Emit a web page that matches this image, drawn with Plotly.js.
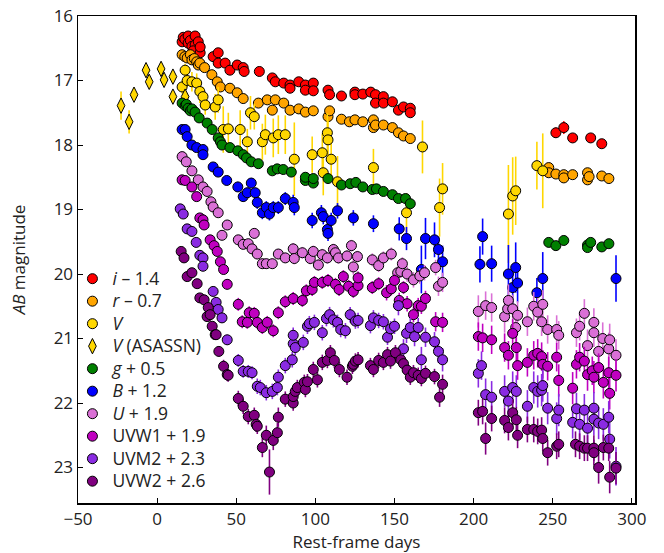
<!DOCTYPE html>
<html>
<head>
<meta charset="utf-8">
<script src="https://cdn.plot.ly/plotly-3.0.1.min.js"></script>
<style>html,body{margin:0;padding:0;background:#fff}#chart{width:664px;height:553px}</style>
</head>
<body>
<div id="chart"></div>
<script>
// Each point: [rest-frame day, AB magnitude (offset applied), error]
const band_i = [[15.8,16.40,.05],[16.5,16.33,.05],[17.5,16.36,.05],[19.6,16.31,.05],[19.6,16.42,.05],[21,16.38,.05],[22,16.47,.05],[24,16.31,.05],[24,16.45,.05],[26,16.40,.05],[22.8,16.54,.05],[27.2,16.57,.05],[27.2,16.48,.05],[35.4,16.63,.05],[38.6,16.57,.05],[38.6,16.73,.05],[43,16.73,.05],[46,16.84,.05],[50.6,16.76,.05],[54.4,16.80,.05],[55,16.86,.05],[64.6,16.86,.05],[72.8,16.96,.05],[74.7,17.02,.05],[80,17.04,.05],[84,17.07,.05],[84,17.12,.05],[89.5,17.02,.05],[93.7,17.07,.05],[93.7,17.15,.05],[98.7,17.04,.05],[98.7,17.16,.05],[108,17.15,.05],[109,17.22,.06],[116.5,17.24,.05],[125,17.18,.05],[125,17.22,.05],[130,17.21,.05],[135,17.18,.05],[138,17.22,.05],[138,17.35,.05],[143,17.25,.05],[143,17.35,.05],[148.7,17.33,.05],[152.5,17.46,.05],[155.7,17.41,.05],[160,17.43,.05],[160,17.50,.05],[252,17.81,.08],[257,17.73,.1],[262.6,17.89,.06],[274,17.89,.06],[281,17.98,.07]];
const band_r = [[15.8,16.60,.04],[17.5,16.63,.04],[19,16.65,.04],[21,16.60,.04],[22,16.68,.04],[23.5,16.66,.04],[25,16.71,.04],[26,16.76,.04],[27,16.73,.04],[30,16.80,.04],[34.6,16.91,.04],[38,17.02,.04],[40,17.10,.04],[46,17.12,.04],[50.6,17.19,.04],[54.4,17.28,.04],[64,17.35,.04],[69.6,17.30,.04],[72.8,17.46,.04],[74.7,17.30,.04],[80,17.35,.04],[84,17.46,.04],[89.5,17.44,.04],[93.7,17.49,.04],[98.7,17.47,.04],[108,17.56,.04],[109,17.47,.04],[116.5,17.60,.04],[121.5,17.64,.04],[125,17.61,.04],[130,17.64,.04],[136.7,17.61,.04],[136.7,17.73,.04],[138,17.69,.04],[143,17.69,.04],[148.7,17.73,.04],[152.5,17.81,.04],[155.7,17.86,.04],[160,17.90,.04],[247.5,18.35,.05],[247.5,18.43,.05],[252,18.45,.05],[257,18.46,.05],[257,18.51,.05],[262.6,18.46,.05],[272,18.43,.05],[272,18.54,.05],[273,18.49,.05],[281,18.48,.05],[285.5,18.52,.05]];
const band_V = [[15.8,17.10,.1],[17.7,16.84,.1],[19,17.00,.1],[22,17.02,.15],[25,17.04,.15],[27,17.17,.18],[29,17.25,.15],[30.4,17.38,.15],[36.7,17.41,.2],[38.6,17.30,.2],[41.8,17.76,.36],[45,17.75,.25],[52.5,17.76,.3],[57,17.95,.2],[59,17.50,.26],[61.4,17.56,.2],[66.5,17.95,.28],[68.4,17.84,.31],[73.4,17.89,.3],[76.6,17.84,.3],[81,17.84,.3],[86.7,18.22,.57],[98,18.15,.28],[104.4,18.12,.3],[105,18.43,.35],[107.6,17.81,.3],[108,17.92,.3],[110,18.22,.3],[114,18.57,.4],[136.7,18.35,.29],[157.6,19.05,.3],[167.7,18.03,.41],[178.5,18.97,.45],[180.4,18.68,.4],[222,19.07,.76],[224.7,18.79,.6],[226.6,18.71,.53],[240,18.32,.37],[243.7,18.40,.58]];
const band_Vasassn = [[-22.8,17.39,.22],[-17.7,17.64,.18],[-14.6,17.22,.1],[-7,16.84,.1],[-5,17.02,.1],[2.5,16.82,.1],[4.4,16.99,.1],[10,16.94,.1],[10,17.25,.1],[17.7,17.25,.1]];
const band_g = [[15.8,17.35,.04],[17.7,17.39,.04],[18.5,17.37,.04],[19.6,17.43,.04],[21,17.47,.04],[22,17.44,.04],[24,17.49,.04],[26.6,17.58,.04],[31.6,17.66,.04],[34.8,17.76,.04],[38.6,17.89,.04],[40,17.95,.04],[41,18.00,.04],[46,18.04,.04],[51,18.09,.04],[54.4,18.15,.04],[56.5,18.20,.04],[59.5,18.26,.04],[64,18.29,.04],[72.8,18.40,.05],[75.9,18.37,.05],[79.7,18.38,.05],[84.8,18.42,.05],[93.7,18.55,.05],[93.7,18.50,.05],[98.7,18.59,.05],[98.7,18.52,.05],[108,18.52,.05],[116.5,18.62,.05],[122,18.60,.05],[125.6,18.58,.05],[130,18.65,.05],[136,18.69,.05],[138.6,18.68,.05],[143,18.72,.05],[148.7,18.77,.05],[152.5,18.83,.05],[157,18.83,.05],[160,18.91,.05],[247.5,19.51,.05],[252,19.56,.05],[257,19.48,.05],[272,19.55,.05],[272,19.59,.05],[274,19.51,.05],[281,19.58,.05],[285.5,19.53,.05]];
const band_B = [[15.8,17.76,.04],[17.7,17.76,.04],[19,17.87,.04],[22,18.00,.05],[25,18.04,.05],[29,18.07,.05],[29,18.15,.05],[35.4,18.34,.06],[38.6,18.42,.06],[44,18.55,.07],[51,18.65,.08],[54.4,18.80,.08],[57,18.74,.08],[59.5,18.59,.08],[62,18.74,.08],[63.3,18.89,.1],[66.5,19.05,.1],[69,18.97,.1],[71,19.07,.1],[73.4,18.97,.1],[76.6,18.97,.1],[81,18.83,.1],[86,18.89,.12],[86.7,18.97,.12],[98,19.17,.12],[103.8,19.05,.12],[105,19.11,.12],[107.6,19.31,.12],[108,19.37,.12],[110,19.17,.12],[114,19.02,.12],[124,19.13,.12],[136.7,19.22,.13],[153,19.30,.18],[157.6,19.45,.18],[169.6,19.45,.32],[175.3,19.47,.27],[177.8,19.62,.2],[180.4,19.81,.25],[167,19.93,.37],[205.7,19.42,.28],[204,19.85,.28],[211.4,19.84,.28],[222,20.00,.45],[226.6,19.90,.39],[224.7,20.21,.3],[227.8,20.14,.3],[240,20.29,.23],[243.7,20.07,.41],[290,20.07,.36]];
const band_U = [[15.8,18.18,.05],[18.4,18.26,.05],[22,18.40,.05],[26,18.54,.05],[29,18.65,.05],[31.6,18.72,.05],[34,18.88,.06],[35.4,18.96,.06],[38.6,19.05,.06],[41,19.40,.07],[44.3,19.24,.07],[51.3,19.47,.07],[54.4,19.54,.07],[57.6,19.53,.07],[60,19.61,.08],[61.4,19.37,.08],[63.3,19.69,.08],[66.5,19.84,.08],[69,19.84,.08],[72.8,19.84,.08],[76.6,19.69,.08],[81,19.75,.08],[86,19.61,.09],[86.7,19.76,.09],[91.8,19.67,.09],[96.8,19.76,.09],[98.7,19.65,.09],[101.9,19.86,.09],[104.4,19.70,.09],[107.6,19.75,.09],[111.4,19.62,.09],[112.7,19.67,.09],[114.6,19.75,.09],[120,19.72,.09],[122.8,19.56,.09],[124,19.89,.12],[126.6,19.73,.09],[136,19.78,.1],[140,19.87,.1],[143,19.75,.1],[148,19.69,.1],[152,19.98,.1],[154,19.96,.1],[155,19.84,.1],[158,20.00,.12],[162,20.09,.12],[166,20.03,.12],[169,19.98,.12],[176,19.90,.12],[177.8,20.19,.15],[180.4,20.13,.15],[203,20.58,.25],[207.6,20.49,.22],[211.4,20.52,.22],[219.6,20.66,.25],[221.5,20.54,.2],[222,20.41,.25],[224.7,20.54,.22],[226.6,20.83,.25],[227.8,20.64,.22],[234,20.74,.22],[238,20.50,.22],[240.5,20.59,.22],[243,20.74,.22],[243.7,20.47,.22],[246.8,20.86,.22],[252.5,20.86,.22],[253.8,20.95,.22],[265,20.91,.22],[267,20.81,.22],[270,20.61,.22],[272,21.11,.25],[276,20.75,.22],[276,20.91,.22],[279,21.20,.25],[281.6,21.00,.25],[285.4,21.16,.25],[286,21.02,.25],[290,21.26,.25]];
const band_UVW1 = [[15.8,18.54,.05],[17.7,18.55,.05],[22,18.65,.05],[25,18.80,.05],[27,19.13,.06],[29,19.16,.06],[29.7,19.24,.06],[33.5,19.47,.06],[36,19.56,.06],[38,19.65,.07],[40,19.81,.07],[42,19.93,.07],[44.3,20.16,.08],[51.3,20.47,.1],[53.8,20.74,.1],[57,20.75,.1],[58.2,20.60,.1],[61.4,20.61,.1],[63.3,20.75,.1],[66.5,20.83,.1],[69.6,20.75,.1],[73.4,20.88,.1],[76.6,20.60,.1],[81,20.43,.1],[86,20.38,.1],[91.8,20.41,.1],[94.3,20.26,.1],[98,20.24,.1],[99.4,20.13,.1],[104.4,20.13,.1],[108,20.10,.1],[112.7,20.16,.1],[115,20.24,.1],[117.7,20.04,.1],[121,20.19,.1],[124,20.27,.1],[127,20.18,.1],[127,20.06,.1],[136,20.21,.1],[140,20.15,.1],[145,20.29,.12],[148,20.23,.1],[150,20.10,.1],[153,20.41,.12],[155.7,20.21,.1],[158,20.46,.12],[162,20.63,.12],[165,20.49,.12],[167,20.50,.12],[169.6,20.38,.12],[176,20.74,.15],[180.4,20.75,.15],[203,20.97,.22],[205.7,20.99,.22],[211.4,21.02,.22],[219.6,21.14,.22],[222,21.26,.22],[224.7,20.92,.22],[227,21.14,.22],[227.8,21.42,.22],[234,21.37,.22],[238,21.26,.22],[240.5,21.23,.22],[243,21.28,.22],[243.7,21.40,.22],[246.8,21.43,.22],[252.5,21.29,.22],[253.8,21.65,.25],[262.6,21.77,.25],[265,21.40,.22],[267,21.29,.22],[270,21.35,.22],[272,21.56,.25],[275,21.50,.22],[276,21.60,.25],[279,21.45,.22],[282,21.68,.25],[285.4,21.53,.25],[286,21.85,.25],[290,21.57,.25]];
const band_UVM2 = [[14.6,18.99,.05],[16.5,19.07,.05],[19,19.30,.06],[22,19.34,.06],[24.7,19.51,.06],[27,19.71,.06],[29,19.75,.06],[29,19.88,.06],[35.4,20.27,.07],[37.3,20.44,.07],[38.6,20.55,.07],[41,20.68,.08],[44.3,21.02,.08],[51.3,21.34,.1],[54.4,21.51,.1],[57.6,21.51,.1],[60,21.53,.1],[63.3,21.74,.12],[65.2,21.76,.12],[69,21.84,.12],[72.8,21.82,.12],[76,21.76,.12],[76.6,21.60,.12],[81,21.42,.12],[85.4,21.33,.12],[86,21.08,.12],[86,20.95,.12],[87.3,21.14,.12],[92.4,21.06,.12],[95,20.81,.12],[96.2,20.77,.12],[99.4,20.75,.12],[104.4,20.91,.12],[107,20.69,.12],[109,20.63,.12],[111.4,20.71,.12],[114,20.75,.12],[116,20.86,.12],[119,20.88,.12],[122,20.63,.12],[125.3,20.73,.12],[127,20.72,.12],[134.8,20.80,.12],[136.7,20.68,.12],[140,20.72,.12],[143,20.74,.12],[145.6,20.98,.12],[147.5,20.85,.12],[150,20.81,.12],[152.5,20.49,.15],[155.7,21.16,.15],[157.6,20.92,.15],[160,20.83,.15],[162.7,20.97,.15],[165,20.83,.15],[167,21.33,.2],[169.6,20.98,.15],[175.3,21.05,.15],[177.8,21.20,.18],[180.4,21.33,.18],[203,21.54,.22],[205,21.42,.22],[207.6,21.87,.25],[211.4,21.91,.25],[219.6,21.82,.25],[222,21.97,.25],[224.7,21.76,.25],[227,21.82,.25],[234,22.05,.25],[238,21.76,.25],[240.5,21.82,.25],[243,21.80,.25],[243.7,21.73,.25],[246.8,22.08,.25],[252.5,22.24,.25],[253.8,22.11,.25],[262.6,22.30,.25],[265,22.09,.25],[267,22.33,.25],[270,22.11,.25],[272,22.39,.25],[276,22.08,.25],[276,22.25,.25],[279,22.31,.25],[282,22.33,.25],[285.4,22.22,.25],[286,22.56,.3],[290,22.98,.3]];
const band_UVW2 = [[15.2,19.65,.05],[17,19.75,.05],[19,20.04,.06],[22,19.98,.06],[25.3,20.15,.06],[27,20.37,.06],[29.7,20.40,.07],[31.6,20.66,.07],[32.3,20.52,.07],[33.5,20.63,.07],[34.8,20.81,.07],[36.7,20.94,.08],[37.3,20.94,.08],[39,21.20,.08],[42,21.43,.1],[44.3,21.56,.1],[44.9,21.57,.1],[51.3,21.93,.12],[54.4,22.05,.12],[57.6,22.21,.12],[61.4,22.19,.12],[62.6,22.33,.12],[63.3,22.36,.12],[66.5,22.69,.15],[69,22.50,.15],[71,23.07,.35],[73.4,22.58,.15],[76,22.46,.15],[76.6,22.22,.15],[81,21.94,.12],[86,22.00,.12],[86,21.90,.12],[87.3,21.82,.12],[88.6,21.76,.12],[93,21.68,.12],[93.7,21.79,.12],[95,21.67,.12],[98.7,21.48,.12],[101.3,21.64,.12],[104.4,21.37,.12],[107.6,21.34,.12],[109.5,21.22,.12],[112,21.34,.12],[115.2,21.48,.12],[120,21.60,.12],[123.4,21.43,.12],[124,21.40,.12],[125.3,21.35,.12],[127,21.33,.12],[134.8,21.42,.12],[136.7,21.48,.12],[140,21.34,.12],[143,21.37,.12],[145.6,21.25,.12],[147.5,21.35,.12],[150.6,21.22,.12],[154,21.33,.12],[155.7,21.39,.12],[158,21.49,.12],[160,21.60,.12],[162,21.53,.12],[165,21.57,.12],[167,21.62,.12],[169.6,21.54,.12],[175.3,21.59,.12],[178.5,21.91,.15],[180.4,21.71,.15],[203,22.15,.2],[205.7,22.13,.2],[207.6,22.55,.25],[211.4,22.24,.2],[219.6,22.27,.2],[222,22.38,.2],[224.7,22.15,.2],[227,22.26,.2],[227.8,22.50,.2],[234,22.41,.2],[238,22.41,.2],[240.5,22.44,.2],[243,22.42,.2],[243.7,22.55,.2],[246.8,22.77,.2],[252.5,22.67,.2],[253.8,22.64,.2],[264.4,22.64,.2],[267,22.67,.2],[270,22.70,.2],[272,22.70,.2],[276,22.70,.2],[276,22.77,.2],[279,23.00,.25],[282,22.69,.2],[285.4,22.70,.2],[286,23.15,.25],[290,23.01,.25]];

const seriesNames = ['<i>i</i> – 1.4','<i>r</i> – 0.7','<i>V</i>','<i>V</i> (ASASSN)','<i>g</i> + 0.5','<i>B</i> + 1.2','<i>U</i> + 1.9','UVW1 + 1.9','UVM2 + 2.3','UVW2 + 2.6'];
const seriesData = [band_i, band_r, band_V, band_Vasassn, band_g, band_B, band_U, band_UVW1, band_UVM2, band_UVW2];
const seriesColors = ['#ff0000','#ffa500','#ffd700','#ffd700','#008000','#0000ff','#da70d6','#c000c0','#8a2be2','#800080'];
const seriesSymbols = ['circle','circle','circle','diamond-tall','circle','circle','circle','circle','circle','circle'];

const traces = seriesData.map((d, k) => ({
  type: 'scatter', mode: 'markers',
  name: '<span style="font-size:17.5px">' + seriesNames[k] + '</span>',
  x: d.map(p => p[0]), y: d.map(p => p[1]),
  error_y: {type: 'data', array: d.map(p => p[2]), visible: true, color: seriesColors[k], thickness: 1.6, width: 0},
  marker: {symbol: seriesSymbols[k], size: seriesSymbols[k] === 'circle' ? 10 : 11, color: seriesColors[k], line: {color: '#000', width: 1}}
}));

const fam = 'Open Sans, sans-serif';
const layout = {
  width: 664, height: 553,
  margin: {l: 78, r: 29, t: 16, b: 50},
  paper_bgcolor: '#fff', plot_bgcolor: '#fff',
  font: {family: fam, size: 17, color: '#222'},
  showlegend: true,
  legend: {x: -0.01, y: 0.494, xanchor: 'left', yanchor: 'top', bgcolor: 'rgba(0,0,0,0)', font: {family: fam, size: 15, color: '#222'}, tracegroupgap: 0},
  xaxis: {range: [-50, 302], tick0: 0, dtick: 50, ticks: 'inside', ticklen: 5, tickcolor: '#000', tickwidth: 1,
    showline: true, linecolor: '#000', linewidth: 1.5, mirror: true, showgrid: false, zeroline: false,
    tickfont: {size: 17}, title: {text: 'Rest-frame days', font: {size: 17}, standoff: 4}},
  yaxis: {range: [23.55, 16], tick0: 16, dtick: 1, ticks: 'inside', ticklen: 5, tickcolor: '#000', tickwidth: 1,
    showline: true, linecolor: '#000', linewidth: 1.5, mirror: true, showgrid: false, zeroline: false,
    tickfont: {size: 17}, title: {text: '<i>AB</i> magnitude', font: {size: 17}, standoff: 23}}
};
Plotly.newPlot('chart', traces, layout, {displayModeBar: false, staticPlot: true});
</script>
</body>
</html>
